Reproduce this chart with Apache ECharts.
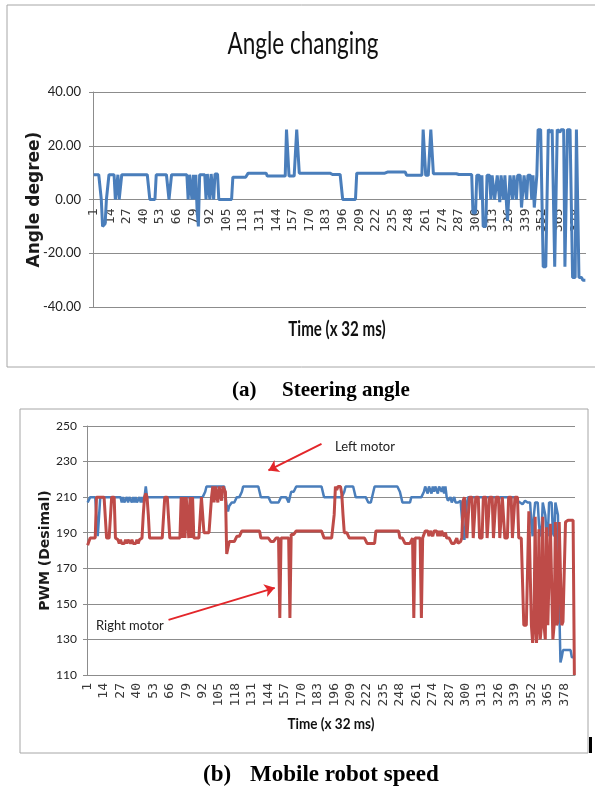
<!DOCTYPE html>
<html>
<head>
<meta charset="utf-8">
<title>Angle changing / Mobile robot speed</title>
<script src="https://cdn.jsdelivr.net/npm/echarts@6/dist/echarts.min.js"></script>
<style>
  html, body { margin: 0; padding: 0; background: #fff; }
  #chart { width: 595px; height: 790px; }
</style>
</head>
<body>
<div id="chart"></div>
<script>
// steering angle in degree, one sample every 32 ms
var angleDeg = [
  9.2, 9.2, 9.2, 9.2, 9.2, 9.2, 0, -10, -10, -9,
  0, 0, 9.2, 9.2, 9.2, 9.2, 9.2, 0, 0, 9.2,
  0, 0, 9.2, 9.2, 9.2, 9.2, 9.2, 9.2, 9.2, 9.2,
  9.2, 9.2, 9.2, 9.2, 9.2, 9.2, 9.2, 9.2, 9.2, 9.2,
  9.2, 9.2, 9.2, 9.2, 0, 0, 0, 0, 0, 9.2,
  9.2, 9.2, 9.2, 9.2, 9.2, 9.2, 9.2, 9.2, 9.2, 0,
  0, 9.2, 9.2, 9.2, 9.2, 9.2, 9.2, 9.2, 9.2, 9.2,
  9.2, 9.2, 9.2, 9.2, 0, 9.2, 9.2, 0, 9.2, 0,
  9.2, -4, -10, 9.2, 9.2, 9.2, 9.2, 9.2, 0, 9.5,
  9.5, 0, 9.5, 9.5, 0, 9.5, 9.5, 9.5, 0, 0,
  0, 0, 0, 0, 0, 0, 0, 0, 0, 8.3,
  8.3, 8.3, 8.3, 8.3, 8.3, 8.3, 8.3, 8.3, 8.3, 8.3,
  8.3, 9.8, 9.8, 9.8, 9.8, 9.8, 9.8, 9.8, 9.8, 9.8,
  9.8, 9.8, 9.8, 9.8, 9.8, 9.8, 8.7, 8.7, 8.7, 8.7,
  8.7, 8.7, 8.7, 8.7, 8.7, 8.7, 8.7, 8.7, 8.7, 8.7,
  8.7, 26, 26, 8.7, 8.7, 8.7, 8.7, 8.7, 8.7, 26,
  26, 9.8, 9.8, 9.8, 9.8, 9.8, 9.8, 9.8, 9.8, 9.8,
  9.8, 9.8, 9.8, 9.8, 9.8, 9.8, 9.8, 9.8, 9.8, 9.8,
  9.8, 9.8, 9.8, 9.8, 9.8, 9.8, 9.3, 9.3, 9.3, 9.3,
  9.3, 9.3, 9.3, 9.3, 9.3, 0, 0, 0, 0, 0,
  0, 0, 0, 0, 0, 0, 9.8, 9.8, 9.8, 9.8,
  9.8, 9.8, 9.8, 9.8, 9.8, 9.8, 9.8, 9.8, 9.8, 9.8,
  9.8, 9.8, 9.8, 9.8, 9.8, 9.8, 9.8, 9.8, 9.8, 10.2,
  10.2, 10.2, 10.2, 10.2, 10.2, 10.2, 10.2, 10.2, 10.2, 10.2,
  10.2, 10.2, 10.2, 10.2, 10.2, 9, 9, 9, 9, 9,
  9, 9, 9, 9, 9, 9, 9, 9, 26, 26,
  9, 9, 9, 9, 26, 26, 9.6, 9.6, 9.6, 9.6,
  9.6, 9.6, 9.6, 9.6, 9.6, 9.6, 9.6, 9.6, 9.6, 9.6,
  9.6, 9.6, 9.6, 9.6, 9.6, 9.3, 9.3, 9.3, 9.3, 9.3,
  9.3, 9.3, 9.3, 9.3, 9.3, 9.3, 9.3, -5, -5, -5,
  9, 9, 9, 0, 9, -10, -10, -10, 9, 9,
  9, 0, 9, 9, 0, 0, 9, 9, -1, 9,
  9, 0, 9, 9, -8, -8, 9, 9, 0, 9,
  9, 0, 9, 9, 9, -3, -3, 9, 9, 0,
  9, 9, 9, 0, 9, -3, -3, 9, 26, 26,
  26, 26, -25, -25, -25, -25, 26, 26, 25, 26,
  26, -25, -25, 26, 26, 25, 26, 26, 26, -25,
  -25, 26, 26, 26, 26, -29, -29, -29, 26, 26,
  -29, -29, -29, -30, -30, -30
];

// PWM (decimal) of the left motor
var leftMotor = [
  207, 207, 210, 210, 210, 210, 210, 210, 188, 188,
  210, 210, 210, 210, 210, 210, 210, 210, 210, 210,
  210, 210, 210, 210, 210, 210, 210, 207, 210, 207,
  207, 210, 207, 210, 210, 207, 210, 207, 210, 207,
  207, 210, 207, 210, 207, 210, 216, 210, 210, 210,
  210, 210, 210, 210, 210, 210, 210, 210, 210, 210,
  210, 210, 210, 210, 210, 210, 210, 210, 210, 210,
  210, 210, 210, 210, 210, 210, 210, 210, 210, 210,
  210, 210, 210, 210, 210, 210, 210, 210, 210, 210,
  210, 210, 210, 213, 216, 216, 216, 216, 216, 216,
  216, 216, 216, 216, 216, 216, 216, 216, 216, 216,
  205, 202, 205, 205, 207, 207, 207, 207, 210, 210,
  210, 210, 213, 216, 216, 216, 216, 216, 216, 216,
  216, 216, 216, 216, 216, 216, 216, 210, 210, 210,
  210, 210, 210, 210, 210, 207, 207, 207, 207, 207,
  207, 207, 207, 210, 210, 210, 210, 210, 210, 207,
  210, 213, 213, 213, 213, 216, 216, 216, 216, 216,
  216, 216, 216, 216, 216, 216, 216, 216, 216, 216,
  216, 216, 216, 216, 216, 216, 216, 210, 210, 210,
  210, 210, 210, 210, 210, 210, 210, 210, 210, 210,
  210, 210, 210, 213, 216, 216, 216, 216, 216, 216,
  216, 213, 210, 210, 210, 210, 210, 210, 210, 210,
  210, 210, 207, 207, 207, 207, 213, 216, 216, 216,
  216, 216, 216, 216, 216, 216, 216, 216, 216, 216,
  216, 216, 216, 216, 216, 216, 216, 213, 210, 207,
  207, 207, 207, 207, 207, 207, 210, 210, 210, 210,
  210, 210, 210, 210, 210, 210, 213, 216, 216, 212,
  216, 216, 212, 216, 213, 216, 216, 212, 216, 216,
  213, 216, 212, 216, 210, 208, 207, 210, 207, 208,
  210, 207, 208, 207, 207, 208, 207, 190, 186, 186,
  207, 210, 210, 210, 210, 210, 210, 210, 210, 210,
  210, 210, 210, 210, 208, 210, 210, 210, 210, 210,
  210, 210, 210, 210, 210, 208, 210, 210, 210, 210,
  210, 210, 210, 210, 210, 210, 210, 210, 210, 210,
  208, 208, 207, 207, 206, 207, 208, 208, 207, 208,
  207, 195, 188, 200, 207, 208, 207, 195, 188, 190,
  207, 208, 200, 190, 188, 207, 208, 207, 190, 188,
  207, 208, 200, 150, 117, 120, 124, 124, 124, 124,
  124, 124, 124, 120, 120, 120
];

// PWM (decimal) of the right motor
var rightMotor = [
  183, 185, 187, 187, 187, 187, 187, 210, 210, 210,
  210, 210, 210, 210, 210, 187, 187, 187, 187, 210,
  210, 210, 187, 187, 186, 184, 186, 184, 185, 184,
  186, 184, 186, 185, 184, 186, 184, 185, 184, 186,
  184, 186, 185, 187, 200, 210, 212, 210, 200, 187,
  187, 187, 187, 187, 187, 187, 187, 187, 187, 187,
  187, 210, 210, 210, 210, 187, 187, 187, 187, 187,
  187, 187, 187, 187, 210, 187, 210, 187, 210, 210,
  187, 210, 187, 210, 187, 187, 187, 187, 187, 187,
  210, 210, 190, 190, 190, 190, 190, 190, 210, 216,
  207, 216, 216, 207, 216, 216, 208, 216, 216, 213,
  178, 178, 185, 185, 185, 185, 185, 185, 188, 188,
  188, 188, 191, 191, 191, 191, 191, 191, 191, 191,
  191, 191, 191, 191, 191, 191, 191, 187, 187, 187,
  187, 187, 187, 187, 187, 185, 185, 185, 185, 187,
  187, 187, 142, 187, 187, 187, 187, 187, 187, 187,
  142, 189, 189, 189, 189, 191, 191, 191, 191, 191,
  191, 191, 191, 191, 191, 191, 191, 191, 191, 191,
  191, 191, 191, 191, 191, 191, 191, 187, 187, 187,
  187, 187, 187, 187, 187, 200, 216, 214, 216, 216,
  216, 212, 200, 190, 190, 190, 190, 187, 187, 187,
  187, 187, 187, 187, 187, 187, 187, 187, 187, 187,
  187, 184, 184, 184, 184, 184, 184, 184, 191, 191,
  191, 191, 191, 191, 191, 191, 191, 191, 191, 191,
  191, 191, 191, 191, 191, 191, 191, 187, 187, 187,
  187, 184, 184, 184, 184, 184, 184, 187, 142, 187,
  187, 187, 187, 187, 142, 187, 187, 191, 191, 191,
  188, 191, 191, 188, 191, 191, 191, 188, 191, 188,
  191, 191, 188, 190, 187, 187, 187, 187, 184, 185,
  184, 184, 187, 184, 184, 185, 187, 208, 210, 210,
  187, 187, 210, 210, 210, 187, 187, 210, 210, 210,
  187, 187, 187, 210, 210, 210, 187, 187, 210, 210,
  210, 187, 187, 210, 210, 210, 187, 187, 210, 210,
  187, 187, 187, 210, 210, 210, 187, 187, 210, 210,
  210, 187, 187, 187, 187, 138, 138, 138, 138, 202,
  202, 138, 128, 138, 199, 128, 138, 192, 130, 138,
  199, 138, 130, 193, 138, 138, 195, 195, 130, 138,
  196, 138, 140, 196, 196, 138, 140, 140, 196, 197,
  197, 197, 197, 197, 197, 110
];

var angleTicks = [-40, -20, 0, 20, 40];
var pwmTicks = [110, 130, 150, 170, 190, 210, 230, 250];

// sample numbers 1..n on the time axis
var timeSteps = angleDeg.map(function (v, k) { return String(k + 1); });

// annotation arrows [sample index, pwm] : from text to curve
var leftMotorArrow = [[185, 240], [143, 225]];
var rightMotorArrow = [[64, 141], [148, 159]];

var gray = '#8c8c8c';
var chart = echarts.init(document.getElementById('chart'));

function timeAxis(grid, margin, offset) {
  return {
    gridIndex: grid,
    type: 'category',
    data: timeSteps,
    boundaryGap: true,
    offset: offset,
    axisLine: { onZero: false, lineStyle: { color: gray } },
    axisTick: { interval: 0, length: 6, lineStyle: { color: '#9a9a9a' } },
    axisLabel: {
      interval: 12, rotate: 90, margin: margin,
      fontFamily: 'DejaVu Sans Mono', fontSize: 13, color: '#3a3a3a'
    },
    splitLine: { show: false }
  };
}

var option = {
  animation: false,
  backgroundColor: '#fff',
  grid: [
    { left: 93, top: 92, width: 493, height: 215 },
    { left: 87, top: 426, width: 488, height: 249 }
  ],
  // top time axis sits on the 0 degree line (half way down the grid)
  xAxis: [timeAxis(0, 9, -107.5), timeAxis(1, 8, 0)],
  yAxis: [
    {
      gridIndex: 0, type: 'value',
      min: angleTicks[0], max: angleTicks[angleTicks.length - 1],
      interval: angleTicks[1] - angleTicks[0],
      axisLine: { show: true, lineStyle: { color: gray } },
      axisTick: { show: true, length: 4, lineStyle: { color: gray } },
      axisLabel: {
        margin: 12, fontFamily: 'Lato', fontSize: 13, color: '#222',
        formatter: function (v) { return v.toFixed(2); }
      },
      splitLine: { lineStyle: { color: gray } },
      name: 'Angle degree)', nameLocation: 'middle', nameRotate: 90, nameGap: 50,
      nameMoveOverlap: false,
      nameTextStyle: { fontFamily: 'DejaVu Sans', fontWeight: 'bold', fontSize: 17, color: '#1a1a1a' }
    },
    {
      gridIndex: 1, type: 'value',
      min: pwmTicks[0], max: pwmTicks[pwmTicks.length - 1],
      interval: pwmTicks[1] - pwmTicks[0],
      axisLine: { show: true, lineStyle: { color: gray } },
      axisTick: { show: true, length: 4, lineStyle: { color: gray } },
      axisLabel: { margin: 10, fontFamily: 'Lato', fontSize: 12, color: '#222' },
      splitLine: { lineStyle: { color: gray } },
      name: 'PWM (Desimal)', nameLocation: 'middle', nameRotate: 90, nameGap: 35,
      nameMoveOverlap: false,
      nameTextStyle: { fontFamily: 'DejaVu Sans', fontWeight: 'bold', fontSize: 14, color: '#1a1a1a' }
    }
  ],
  series: [
    {
      name: 'Angle', type: 'line', xAxisIndex: 0, yAxisIndex: 0,
      data: angleDeg, showSymbol: false, symbol: 'none',
      lineStyle: { color: '#4A7EBB', width: 3 }
    },
    {
      name: 'Left motor', type: 'line', xAxisIndex: 1, yAxisIndex: 1,
      data: leftMotor, showSymbol: false, symbol: 'none',
      lineStyle: { color: '#4A7EBB', width: 2.5 }
    },
    {
      name: 'Right motor', type: 'line', xAxisIndex: 1, yAxisIndex: 1,
      data: rightMotor, showSymbol: false, symbol: 'none',
      lineStyle: { color: '#BE4B48', width: 3 },
      markLine: {
        silent: true,
        symbol: ['none', 'arrow'],
        symbolSize: 10,
        lineStyle: { color: '#E3262A', width: 2, type: 'solid' },
        label: { show: false },
        emphasis: { disabled: true },
        data: [
          [{ coord: leftMotorArrow[0] }, { coord: leftMotorArrow[1] }],
          [{ coord: rightMotorArrow[0] }, { coord: rightMotorArrow[1] }]
        ]
      }
    }
  ],
  graphic: [
    // chart frames
    { type: 'rect', silent: true, z: -1, shape: { x: 7, y: 5, width: 600, height: 362 },
      style: { fill: 'none', stroke: '#a6a6a6', lineWidth: 1 } },
    { type: 'rect', silent: true, z: -1, shape: { x: 20, y: 409, width: 568, height: 344 },
      style: { fill: 'none', stroke: '#a6a6a6', lineWidth: 1 } },
    { type: 'rect', silent: true, shape: { x: 589, y: 737, width: 3, height: 16 },
      style: { fill: '#000' } },
    // titles
    { type: 'text', x: 303, y: 44, scaleX: 0.75,
      style: { text: 'Angle changing', font: '30px Lato', fill: '#111', align: 'center', verticalAlign: 'middle' } },
    { type: 'text', x: 337, y: 329, scaleX: 0.72,
      style: { text: 'Time (x 32 ms)', font: 'bold 21px Lato', fill: '#111', align: 'center', verticalAlign: 'middle' } },
    { type: 'text', x: 331, y: 724, scaleX: 0.9,
      style: { text: 'Time (x 32 ms)', font: 'bold 15px Lato', fill: '#111', align: 'center', verticalAlign: 'middle' } },
    // annotations
    { type: 'text', x: 335, y: 447,
      style: { text: 'Left motor', font: '13px Lato', fill: '#222', verticalAlign: 'middle' } },
    { type: 'text', x: 96, y: 626,
      style: { text: 'Right motor', font: '13px Lato', fill: '#222', verticalAlign: 'middle' } },
    // captions
    { type: 'text', x: 232, y: 391,
      style: { text: '(a)', font: 'bold 21px "Liberation Serif"', fill: '#000', verticalAlign: 'middle' } },
    { type: 'text', x: 282, y: 391,
      style: { text: 'Steering angle', font: 'bold 21px "Liberation Serif"', fill: '#000', verticalAlign: 'middle' } },
    { type: 'text', x: 203, y: 775,
      style: { text: '(b)', font: 'bold 23px "Liberation Serif"', fill: '#000', verticalAlign: 'middle' } },
    { type: 'text', x: 250, y: 775,
      style: { text: 'Mobile robot speed', font: 'bold 23px "Liberation Serif"', fill: '#000', verticalAlign: 'middle' } }
  ]
};

chart.setOption(option);
</script>
</body>
</html>
